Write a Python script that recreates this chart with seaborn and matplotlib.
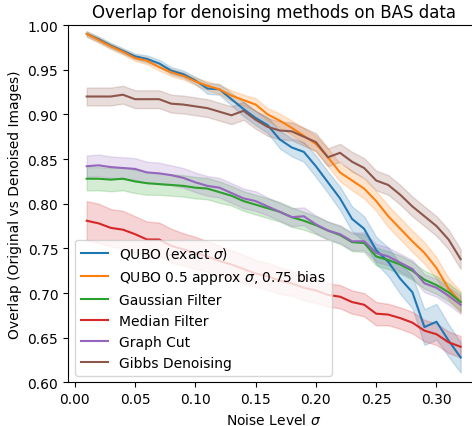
import numpy as np
import pandas as pd
import matplotlib
matplotlib.use("Agg")
import matplotlib.pyplot as plt
import seaborn as sns

# noise levels 0.01 .. 0.32
noise = [round(0.01 * k, 2) for k in range(1, 33)]

methods = [
    "QUBO (exact $\\sigma$)",
    "QUBO 0.5 approx $\\sigma$, 0.75 bias",
    "Gaussian Filter",
    "Median Filter",
    "Graph Cut",
    "Gibbs Denoising",
]

qubo_exact = [0.990, 0.984, 0.977, 0.971, 0.965, 0.962, 0.957, 0.949, 0.945, 0.938,
              0.929, 0.928, 0.917, 0.906, 0.896, 0.888, 0.872, 0.863, 0.858, 0.842,
              0.824, 0.806, 0.783, 0.772, 0.748, 0.735, 0.716, 0.701, 0.662, 0.668,
              0.647, 0.628]
qubo_approx = [0.990, 0.983, 0.976, 0.970, 0.963, 0.960, 0.953, 0.947, 0.943, 0.937,
               0.932, 0.928, 0.921, 0.916, 0.911, 0.900, 0.893, 0.885, 0.876, 0.867,
               0.852, 0.835, 0.826, 0.817, 0.803, 0.786, 0.772, 0.758, 0.745, 0.728,
               0.705, 0.690]
gaussian = [0.828, 0.828, 0.827, 0.828, 0.825, 0.823, 0.822, 0.821, 0.820, 0.818,
            0.817, 0.813, 0.809, 0.803, 0.799, 0.795, 0.791, 0.785, 0.781, 0.776,
            0.770, 0.765, 0.757, 0.756, 0.741, 0.737, 0.732, 0.725, 0.715, 0.709,
            0.701, 0.690]
median = [0.781, 0.778, 0.773, 0.771, 0.766, 0.760, 0.760, 0.753, 0.749, 0.745,
          0.741, 0.736, 0.732, 0.727, 0.722, 0.719, 0.714, 0.711, 0.706, 0.703,
          0.698, 0.696, 0.690, 0.687, 0.677, 0.676, 0.672, 0.667, 0.658, 0.654,
          0.645, 0.640]
graph_cut = [0.842, 0.843, 0.841, 0.840, 0.839, 0.835, 0.834, 0.832, 0.829, 0.824,
             0.820, 0.818, 0.812, 0.806, 0.803, 0.797, 0.791, 0.785, 0.786, 0.777,
             0.770, 0.766, 0.758, 0.758, 0.745, 0.741, 0.734, 0.727, 0.711, 0.706,
             0.697, 0.687]
gibbs = [0.920, 0.920, 0.920, 0.922, 0.917, 0.917, 0.917, 0.912, 0.911, 0.909,
         0.907, 0.903, 0.899, 0.904, 0.894, 0.886, 0.882, 0.881, 0.875, 0.869,
         0.852, 0.857, 0.847, 0.840, 0.826, 0.821, 0.810, 0.797, 0.786, 0.775,
         0.760, 0.738]

# half-width of the shaded band
spread_exact = [0.003, 0.003, 0.003, 0.003, 0.003, 0.004, 0.004, 0.004, 0.004, 0.004,
                0.006, 0.006, 0.007, 0.008, 0.008, 0.009, 0.010, 0.010, 0.011, 0.012,
                0.012, 0.013, 0.014, 0.014, 0.015, 0.016, 0.017, 0.018, 0.020, 0.020,
                0.018, 0.017]
spread_approx = [0.003, 0.003, 0.003, 0.003, 0.003, 0.004, 0.004, 0.004, 0.004, 0.004,
                 0.005, 0.005, 0.006, 0.006, 0.007, 0.007, 0.008, 0.008, 0.009, 0.009,
                 0.010, 0.010, 0.011, 0.011, 0.011, 0.012, 0.012, 0.012, 0.012, 0.012,
                 0.012, 0.012]
spread_gauss = [0.013, 0.013, 0.013, 0.013, 0.013, 0.013, 0.012, 0.012, 0.012, 0.012,
                0.012, 0.012, 0.011, 0.011, 0.011, 0.011, 0.011, 0.011, 0.010, 0.010,
                0.010, 0.010, 0.010, 0.010, 0.010, 0.010, 0.010, 0.010, 0.010, 0.010,
                0.010, 0.010]
spread_median = [0.022, 0.022, 0.021, 0.021, 0.020, 0.020, 0.019, 0.019, 0.018, 0.018,
                 0.017, 0.017, 0.016, 0.016, 0.015, 0.015, 0.015, 0.014, 0.014, 0.014,
                 0.013, 0.013, 0.013, 0.013, 0.013, 0.012, 0.012, 0.012, 0.012, 0.012,
                 0.012, 0.012]
spread_graph = [0.012, 0.012, 0.012, 0.012, 0.012, 0.012, 0.012, 0.011, 0.011, 0.011,
                0.011, 0.011, 0.011, 0.011, 0.011, 0.010, 0.010, 0.010, 0.010, 0.010,
                0.010, 0.010, 0.010, 0.010, 0.010, 0.010, 0.010, 0.010, 0.010, 0.010,
                0.010, 0.010]
spread_gibbs = [0.010, 0.010, 0.010, 0.010, 0.010, 0.010, 0.010, 0.010, 0.010, 0.010,
                0.010, 0.010, 0.010, 0.010, 0.010, 0.010, 0.010, 0.010, 0.010, 0.010,
                0.010, 0.010, 0.011, 0.011, 0.011, 0.011, 0.011, 0.011, 0.011, 0.011,
                0.011, 0.011]

series = [qubo_exact, qubo_approx, gaussian, median, graph_cut, gibbs]
spreads = [spread_exact, spread_approx, spread_gauss, spread_median, spread_graph, spread_gibbs]

# long form: lower edge, centre, upper edge for every noise level
rows = []
for name, vals, spr in zip(methods, series, spreads):
    for x, v, s in zip(noise, vals, spr):
        for y in (v - s, v, v + s):
            rows.append({"noise": x, "overlap": y, "method": name})
df = pd.DataFrame(rows)

fig = plt.figure(figsize=(4.72, 4.27), dpi=100)
ax = fig.add_axes([0.1441, 0.1019, 0.8714, 0.8372])

sns.lineplot(data=df, x="noise", y="overlap", hue="method", hue_order=methods,
             palette="tab10", estimator="median", errorbar=("pi", 100), ax=ax)

ax.set_ylim(0.6, 1.0)
ax.set_title("Overlap for denoising methods on BAS data")
ax.set_xlabel("Noise Level $\\sigma$")
ax.set_ylabel("Overlap (Original vs Denoised Images)")
sns.move_legend(ax, "lower left", title=None)

fig.savefig("out.png", dpi=100)
